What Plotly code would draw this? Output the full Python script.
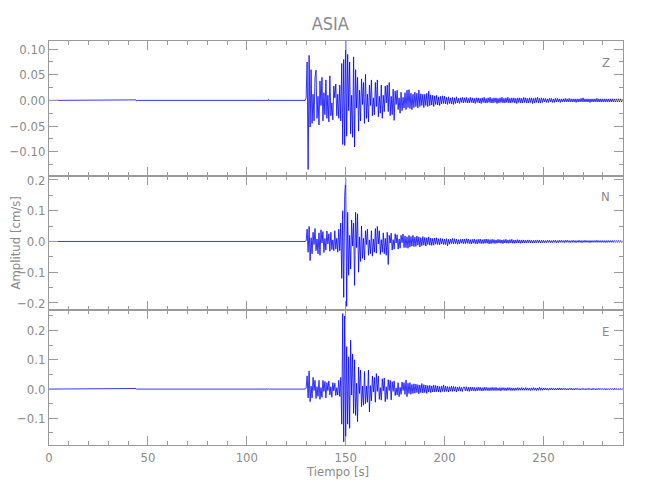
import numpy as np
import plotly.graph_objects as go
from plotly.subplots import make_subplots

# ---------------- data (velocity, in units of 0.001 cm/s) ----------------
SCALE = 0.001
T_START = 130.0   # first sample of the active part [s]
DT = 0.5          # sample spacing of the active part [s]

pre_t = [0.0, 43.8, 44.0, 44.3, 44.6, 110.8, 111.0, 111.3, 111.6, 129.5]
pre_z = [0, 0, 1, -1, 0, 0, 2, -1, 0, 0]
pre_n = [0, 0, 1, -1, 0, 0, 1, -1, 0, 0]
pre_e = [0, 0, 2, -1, 0, 0, 1, -1, 0, 0]

z_vals = [
    5, 75, -135, 88, -52, 60, -45, 12, -40, 45,
    59, -35, 8, -48, 38, -10, 45, -40, 15, -28,
    40, -35, 10, -42, 48, -30, -5, -38, 28, 5,
    32, -30, 12, -35, 30, -40, 72, -86, 80, -88,
    116, -70, 90, -20, 75, -65, 10, -72, 85, -91,
    60, -15, 45, -60, 20, -40, 42, -8, 35, -45,
    51, -35, 12, -42, 30, -10, 40, -30, 5, -28,
    35, -12, 40, -32, 8, -25, 30, -35, 10, -22,
    28, -5, 30, -22, 35, -30, 8, -28, 22, -39,
    18, -8, 20, -18, 5, -25, 16, -20, 6, -15,
    15, -18, 20, -14, 21, -16, 14, -18, 12, -14,
    16, -12, 14, -15, 20, -12, 13, -10, 12, -14,
    12, -10, 14, -12, 18, -10, 11, -9, 10, -12,
    9, -8, 10, -9, 7, -10, 8, -7, 9, -6,
    8, -7, 6, -8, 7, -6, 5, -7, 6, -8,
    5, -6, 7, -5, 4, -6, 5, -4, 6, -5,
    5, -4, 6, -5, 4, -5, 6, -4, 5, -5,
    4, -6, 5, -4, 5, -5, 4, -6, 5, -4,
    6, -5, 4, -5, 5, -4, 6, -5, 4, -5,
    5, -4, 5, -6, 4, -5, 5, -4, 6, -5,
    4, -5, 5, -4, 6, -5, 4, -5, 5, -4,
    5, -5, 4, -6, 5, -4, 5, -5, 4, -5,
    6, -4, 5, -5, 4, -5, 5, -4, 5, -6,
    4, -5, 5, -4, 6, -5, 4, -5, 5, -4,
    4, -3, 4, -4, 3, -4, 4, -3, 4, -4,
    3, -4, 4, -3, 4, -3, 3, -4, 3, -3,
    3, -3, 4, -3, 3, -3, 4, -3, 3, -3,
    3, -3, 3, -4, 3, -3, 3, -3, 4, -3,
    5, -3, 3, -3, 3, -3, 3, -4, 3, -3,
    3, -3, 3, -3, 4, -3, 3, -3, 3, -3,
    3, -3, 3, -3, 3, -3, 3, -3, 3, -3,
    3, -3, 3, -3, 3, -3, 3, -3, 3, -3,
    2,
]

n_vals = [
    2, 40, -35, 49, -62, 12, -40, 30, -10, 42,
    -30, 8, -40, 28, -45, 38, -5, 32, -36, 10,
    -28, 34, -8, 25, -32, 30, -26, 5, -30, 35,
    -25, 10, -35, 40, -30, 60, -120, 100, -182, 150,
    204, -211, 95, -110, 20, -90, 70, -15, 60, -143,
    95, -20, 90, -100, 15, -65, 50, -55, 10, -60,
    35, -10, 40, -45, 5, -40, 35, -48, 8, -35,
    42, -38, 49, -8, 35, -42, 6, -35, 28, -40,
    10, -45, 30, -75, 20, -5, 27, -28, 6, -25,
    25, -5, 22, -25, 8, -22, 20, -4, 24, -20,
    18, -20, 15, -22, 20, -18, 16, -15, 20, -17,
    14, -16, 18, -12, 15, -18, 12, -14, 16, -12,
    13, -15, 12, -10, 15, -12, 11, -13, 10, -12,
    11, -9, 12, -10, 9, -11, 10, -8, 9, -10,
    8, -10, 9, -14, 7, -9, 8, -7, 10, -8,
    9, -7, 8, -9, 6, -8, 7, -6, 8, -7,
    8, -7, 9, -6, 8, -7, 6, -8, 7, -6,
    8, -7, 6, -8, 7, -6, 8, -7, 6, -7,
    7, -6, 8, -6, 7, -8, 6, -7, 7, -6,
    6, -7, 5, -6, 7, -5, 6, -6, 5, -7,
    6, -5, 7, -6, 5, -6, 6, -5, 7, -6,
    5, -6, 5, -5, 6, -5, 5, -6, 5, -5,
    5, -5, 4, -5, 5, -4, 5, -5, 4, -5,
    4, -5, 4, -4, 5, -4, 4, -5, 4, -4,
    4, -4, 3, -4, 4, -3, 4, -4, 3, -4,
    4, -3, 4, -4, 3, -4, 4, -3, 4, -3,
    3, -4, 4, -3, 4, -3, 3, -4, 3, -3,
    4, -3, 3, -4, 3, -3, 4, -3, 3, -4,
    3, -3, 4, -3, 3, -3, 3, -4, 3, -3,
    3, -3, 3, -3, 4, -3, 3, -3, 3, -3,
    3, -3, 3, -4, 3, -3, 3, -3, 3, -3,
    3, -3, 3, -3, 3, -3, 3, -3, 3, -3,
    2,
]

e_vals = [
    3, 45, -30, 62, -43, 10, -30, 40, -5, 30,
    -32, 8, -25, 30, -35, 5, -28, 30, -8, 26,
    -30, 22, -5, 28, -20, 8, -28, 22, -6, 20,
    -22, 5, -20, 30, -25, 40, -120, 258, -180, 250,
    -163, 145, -120, 110, -134, 167, -20, 120, -83, 100,
    -90, 20, -111, 75, -15, 65, -60, 10, -55, 60,
    -50, 10, -45, 65, -78, 12, -40, 45, -10, 40,
    -45, 53, -8, 45, -35, 5, -38, 35, -6, 38,
    -43, 8, -35, 32, -5, 30, -37, 25, -8, 28,
    -22, 4, -20, 22, -26, 6, -18, 24, -5, 22,
    -18, 31, -26, 20, -15, 22, -18, 16, -15, 18,
    -14, 17, -12, 15, -16, 14, -12, 19, -13, 15,
    -12, 14, -15, 12, -10, 13, -12, 11, -10, 14,
    -10, 12, -9, 11, -10, 9, -11, 10, -8, 14,
    -9, 10, -8, 9, -10, 8, -7, 10, -8, 9,
    -7, 8, -10, 7, -6, 8, -7, 6, -8, 7,
    7, -6, 8, -7, 6, -8, 7, -6, 7, -6,
    6, -7, 5, -6, 7, -5, 6, -6, 5, -6,
    6, -5, 6, -5, 5, -6, 5, -5, 6, -5,
    5, -5, 6, -5, 4, -5, 5, -6, 5, -4,
    5, -5, 4, -5, 5, -4, 5, -5, 4, -5,
    4, -5, 4, -4, 5, -4, 4, -4, 5, -4,
    4, -4, 5, -4, 4, -4, 4, -5, 4, -4,
    5, -4, 4, -5, 4, -4, 6, -4, 4, -4,
    4, -3, 4, -3, 3, -4, 3, -3, 4, -3,
    3, -3, 3, -3, 3, -3, 4, -3, 3, -3,
    3, -2, 3, -3, 2, -3, 3, -2, 3, -3,
    2, -3, 3, -2, 3, -2, 2, -3, 2, -2,
    3, -2, 2, -3, 2, -2, 3, -2, 2, -3,
    3, -2, 2, -3, 2, -2, 3, -2, 2, -2,
    2, -2, 2, -3, 2, -2, 2, -2, 2, -2,
    2, -2, 3, -2, 2, -2, 2, -2, 2, -2,
    2,
]

components = ["Z", "N", "E"]
title_text = "ASIA"
x_title = "Tiempo [s]"
y_title = "Amplitud [cm/s]"
x_ticks = [0, 50, 100, 150, 200, 250]

# ---------------- figure ----------------
FONT = "Liberation Sans Narrow, DejaVu Sans Condensed, Arial Narrow, sans-serif"
TXT = "#8a8a8a"
AX = "#9a9a9a"

fig = make_subplots(rows=3, cols=1, shared_xaxes=True, vertical_spacing=0)

series = [(pre_z, z_vals), (pre_n, n_vals), (pre_e, e_vals)]
for i, (pre, vals) in enumerate(series):
    t_act = T_START + DT * np.arange(len(vals))
    t = np.concatenate([np.array(pre_t), t_act])
    v = np.concatenate([np.array(pre, dtype=float), np.array(vals, dtype=float)]) * SCALE
    fig.add_trace(go.Scatter(x=t, y=v, mode="lines",
                             line=dict(color="#0000ff", width=0.8),
                             showlegend=False, hoverinfo="skip"),
                  row=i + 1, col=1)

y_ranges = [[-0.147, 0.116], [-0.224, 0.214], [-0.191, 0.269]]
y_dticks = [0.05, 0.1, 0.1]
y_minor = [0.025, 0.05, 0.05]
y_fmt = [".2f", ".1f", ".1f"]

for i in range(3):
    fig.update_yaxes(range=y_ranges[i], dtick=y_dticks[i], tick0=0, tickformat=y_fmt[i],
                     showline=True, linecolor=AX, linewidth=1, mirror="allticks",
                     ticks="inside", ticklen=9, tickcolor=AX, tickwidth=1,
                     minor=dict(dtick=y_minor[i], tick0=0, ticks="inside", ticklen=4,
                                tickcolor=AX, tickwidth=1),
                     showgrid=False, zeroline=False, automargin=False,
                     tickfont=dict(family=FONT, size=13, color=TXT),
                     row=i + 1, col=1)
    fig.update_xaxes(range=[0, 290.2], tickvals=x_ticks,
                     showline=True, linecolor=AX, linewidth=1, mirror="allticks",
                     ticks="inside", ticklen=9, tickcolor=AX, tickwidth=1,
                     minor=dict(dtick=10, tick0=0, ticks="inside", ticklen=4,
                                tickcolor=AX, tickwidth=1),
                     showgrid=False, zeroline=False, automargin=False,
                     showticklabels=(i == 2),
                     tickfont=dict(family=FONT, size=13, color=TXT),
                     row=i + 1, col=1)

annotations = [
    dict(text=y_title, x=-0.06, y=0.5, xref="paper", yref="paper", textangle=-90,
         showarrow=False, xanchor="center", yanchor="middle",
         font=dict(family=FONT, size=13, color=TXT)),
    dict(text=x_title, x=0.502, y=-0.066, xref="paper", yref="paper",
         showarrow=False, xanchor="center", yanchor="middle",
         font=dict(family=FONT, size=13, color=TXT)),
]
comp_y = [0.948, 0.616, 0.280]
for c, yy in zip(components, comp_y):
    annotations.append(dict(text=c, x=0.97, y=yy, xref="paper", yref="paper",
                            showarrow=False, xanchor="center", yanchor="middle",
                            font=dict(family=FONT, size=13, color=TXT)))

# the page body adds an 8 px offset, so the figure is sized to fit the window
fig.update_layout(
    width=642, height=492,
    margin=dict(l=41, r=27, t=33, b=55, autoexpand=False),
    paper_bgcolor="white", plot_bgcolor="white",
    title=dict(text=title_text, x=0.502, xanchor="center", y=0.968, yanchor="middle",
               yref="container", font=dict(family=FONT, size=18, color=TXT)),
    annotations=annotations,
)

fig.write_html("out.html")
